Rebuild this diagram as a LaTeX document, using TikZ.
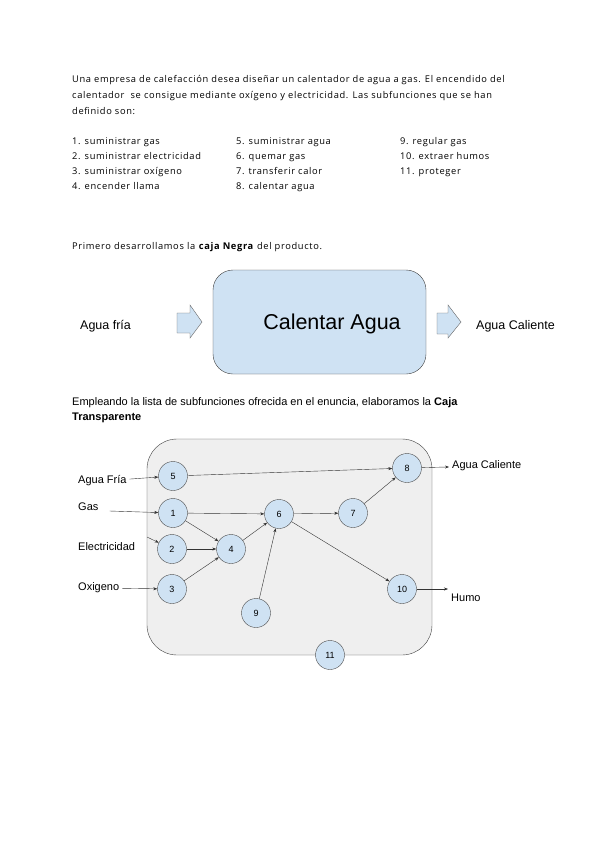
\documentclass[tikz,border=0pt]{standalone}
\usepackage{fontspec}
\setmainfont[LetterSpace=7]{Open Sans}
\newfontfamily\arialf{Liberation Sans}
\usetikzlibrary{arrows.meta}
\definecolor{azul}{HTML}{CFE2F3}
\definecolor{gris}{HTML}{EFEFEF}

\begin{document}
\begin{tikzpicture}[x=1pt, y=-1pt,
  fn/.style={circle, draw=black!70, fill=azul, minimum size=29pt, inner sep=0, font=\arialf\fontsize{9}{10}\selectfont},
  lbl/.style={anchor=west, inner sep=3pt, font=\arialf\fontsize{11}{12}\selectfont},
  txt/.style={anchor=north west, inner sep=0, align=left},
  >={Stealth[length=4pt, width=3pt]}]
  \useasboundingbox (0,0) rectangle (599,848);

  % enunciado
  \node[txt, font=\fontsize{9.3}{16}\selectfont] (intro) at (72,75)
    {Una empresa de calefacción desea diseñar un calentador de agua a gas. El encendido del\\
     calentador\ \ se consigue mediante oxígeno y electricidad. Las subfunciones que se han\\
     definido son:};
  \node[txt, font=\fontsize{9.3}{15.3}\selectfont] (col1) at (72,137)
    {1. suministrar gas\\ 2. suministrar electricidad\\ 3. suministrar oxígeno\\ 4. encender llama};
  \node[txt, font=\fontsize{9.3}{15.3}\selectfont] (col2) at (236,137)
    {5. suministrar agua\\ 6. quemar gas\\ 7. transferir calor\\ 8. calentar agua};
  \node[txt, font=\fontsize{9.3}{15.3}\selectfont] (col3) at (400,137)
    {9. regular gas\\ 10. extraer humos\\ 11. proteger};

  % caja negra
  \node[txt, font=\fontsize{9.3}{11}\selectfont] (primero) at (72,242)
    {Primero desarrollamos la \textbf{caja Negra} del producto.};
  \node[draw=black!75, fill=azul, rounded corners=20pt, minimum width=213pt, minimum height=104pt, inner sep=0] (negra) at (319.5,322) {};
  \node[font=\arialf\fontsize{21.5}{24}\selectfont] (titulo) at (332,324) {Calentar Agua};
  \draw[draw=black!60, fill=azul] (177,313) -- (190,313) -- (190,305) -- (202,322) -- (190,338) -- (190,333) -- (177,333) -- cycle;
  \draw[draw=black!60, fill=azul] (437,313) -- (448,313) -- (448,305) -- (461,322) -- (448,338) -- (448,334) -- (437,334) -- cycle;
  \node[lbl, inner sep=0, font=\arialf\fontsize{12.5}{14}\selectfont] (fria) at (80,326) {Agua fría};
  \node[lbl, inner sep=0, font=\arialf\fontsize{12.5}{14}\selectfont] (caliente) at (476,326) {Agua Caliente};

  % caja transparente
  \node[txt, font=\arialf\fontsize{11}{15}\selectfont] (empleando) at (72,397)
    {Empleando la lista de subfunciones ofrecida en el enuncia, elaboramos la \textbf{Caja}\\ \textbf{Transparente}};
  \draw[draw=black!75, fill=gris, rounded corners=30pt] (147,439) rectangle (432,655);

  \node[fn] (f5) at (173,476) {5};
  \node[fn] (f1) at (173,513) {1};
  \node[fn] (f2) at (172,549) {2};
  \node[fn] (f3) at (172,589) {3};
  \node[fn] (f4) at (231,549) {4};
  \node[fn] (f6) at (279,514) {6};
  \node[fn] (f9) at (256,613) {9};
  \node[fn] (f7) at (353,513) {7};
  \node[fn] (f8) at (407,468) {8};
  \node[fn] (f10) at (402,589) {10};
  \node[fn] (f11) at (330,655) {11};

  \node[lbl] (lfria) at (75,481) {Agua Fría};
  \node[lbl] (lgas) at (75,507) {Gas};
  \node[lbl] (lelec) at (75,547) {Electricidad};
  \node[lbl] (loxi) at (75,588) {Oxigeno};
  \node[lbl] (lcal) at (449,466) {Agua Caliente};
  \node[lbl] (lhumo) at (448,598) {Humo};
  \coordinate (e0) at (147,537);

  \draw[->, black!80] (lfria) -- (f5);
  \draw[->, black!80] (lgas.east) ++(8,4) -- (f1);
  \draw[->, black!80] (e0) -- (f2);
  \draw[->, black!80] (loxi) -- (f3);
  \draw[->, black!80] (f5) -- (f8);
  \draw[->, black!80] (f1) -- (f6);
  \draw[->, black!80] (f1) -- (f4);
  \draw[->, black!80] (f2) -- (f4);
  \draw[->, black!80] (f3) -- (f4);
  \draw[->, black!80] (f4) -- (f6);
  \draw[->, black!80] (f9) -- (f6);
  \draw[->, black!80] (f6) -- (f7);
  \draw[->, black!80] (f6) -- (f10);
  \draw[->, black!80] (f7) -- (f8);
  \draw[->, black!80] (f8) -- (lcal);
  \draw[->, black!80] (f10) -- (lhumo.west |- f10);
\end{tikzpicture}
\end{document}
